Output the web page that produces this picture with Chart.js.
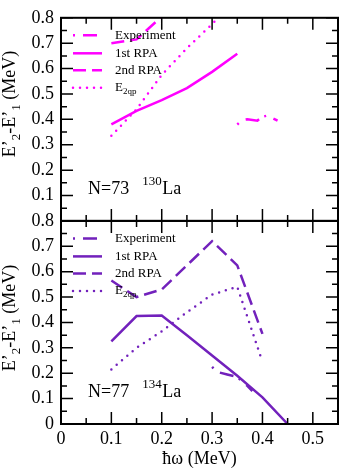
<!DOCTYPE html>
<html>
<head>
<meta charset="utf-8">
<script src="https://cdn.jsdelivr.net/npm/chart.js@4.4.1/dist/chart.umd.min.js"></script>
<style>
  html, body { margin: 0; padding: 0; background: #fff; }
  #wrap { position: relative; width: 341px; height: 470px; }
</style>
</head>
<body>
<div id="wrap"><canvas id="chart"></canvas></div>
<script>
// axis ticks (MeV)
var xTicks = [0, 0.1, 0.2, 0.3, 0.4, 0.5];
var yTicks = [0, 0.1, 0.2, 0.3, 0.4, 0.5, 0.6, 0.7, 0.8];

// N=73 130La (top panel)
var la130ExpX = [0.35, 0.36, 0.37, 0.39, 0.40, 0.41, 0.43];
var la130ExpY = [0.38, 0.397, 0.40, 0.395, 0.41, 0.415, 0.395];
var la130Rpa1X = [0.1, 0.15, 0.2, 0.25, 0.3, 0.35];
var la130Rpa1Y = [0.38, 0.433, 0.476, 0.523, 0.587, 0.658];
var la130Rpa2X = [0.1, 0.15, 0.2];
var la130Rpa2Y = [0.70, 0.715, 0.805];
var la130QpX = [0.1, 0.15, 0.2, 0.25, 0.3, 0.35];
var la130QpY = [0.335, 0.44, 0.575, 0.68, 0.775, 0.88];

// N=77 134La (bottom panel)
var la134ExpX = [0.3, 0.31, 0.33, 0.35, 0.37, 0.38];
var la134ExpY = [0.225, 0.205, 0.195, 0.185, 0.15, 0.13];
var la134Rpa1X = [0.1, 0.15, 0.2, 0.25, 0.3, 0.35, 0.4, 0.45];
var la134Rpa1Y = [0.325, 0.425, 0.427, 0.35, 0.27, 0.19, 0.105, 0.0];
var la134Rpa2X = [0.1, 0.15, 0.2, 0.3, 0.35, 0.4];
var la134Rpa2Y = [0.565, 0.50, 0.53, 0.72, 0.625, 0.355];
var la134QpX = [0.1, 0.15, 0.2, 0.25, 0.3, 0.35, 0.4];
var la134QpY = [0.215, 0.30, 0.365, 0.44, 0.51, 0.54, 0.245];

var MAGENTA = 'rgb(255,0,255)';
var INDIGO = 'rgb(114,33,188)';
var SERIF = '"Liberation Serif", "Times New Roman", serif';

// line styles: experiment, 1st RPA, 2nd RPA, E2qp
var styles = [
    { dash: [2, 8, 14, 6], cap: 'butt' },
    { dash: [], cap: 'butt' },
    { dash: [13, 6], cap: 'butt' },
    { dash: [0, 7], cap: 'round' }
];

function pts(xs, ys) {
    return xs.map(function (x, i) { return { x: x, y: ys[i] }; });
}

function makeSet(xs, ys, color, k, axis) {
    return {
        data: pts(xs, ys),
        yAxisID: axis,
        showLine: true,
        borderColor: color,
        backgroundColor: color,
        borderWidth: 2.5,
        borderDash: styles[k].dash,
        borderCapStyle: styles[k].cap,
        pointRadius: 0,
        tension: 0
    };
}

function drawRich(ctx, parts, x, y) {
    parts.forEach(function (p) {
        ctx.font = p[1] + 'px ' + SERIF;
        ctx.fillText(p[0], x, y + p[2]);
        x += ctx.measureText(p[0]).width;
    });
    return x;
}

function richWidth(ctx, parts) {
    var w = 0;
    parts.forEach(function (p) {
        ctx.font = p[1] + 'px ' + SERIF;
        w += ctx.measureText(p[0]).width;
    });
    return w;
}

var legendNames = [
    [['Experiment', 13, 0]],
    [['1st RPA', 13, 0]],
    [['2nd RPA', 13, 0]],
    [['E', 13, 0], ['2qp', 9, 4]]
];
var legendRows = [17.5, 35.5, 52.5, 70];
var yTitle = [['E', 18, 0], ['\u2019', 18, 0], ['2', 13, 5], ['-E', 18, 0], ['\u2019', 18, 0], ['1', 13, 5], [' (MeV)', 18, 0]];

var panels = [
    { axis: 'yTop', color: MAGENTA, n: 'N=73', a: '130', titleY: 104 },
    { axis: 'yBot', color: INDIGO, n: 'N=77', a: '134', titleY: 318 }
];

var panelPlugin = {
    id: 'panels',
    afterDatasetsDraw: function (chart) {
        var ctx = chart.ctx, xs = chart.scales.x;
        var l = xs.left, r = xs.right;
        panels.forEach(function (p) {
            var ys = chart.scales[p.axis];
            var t = ys.top, b = ys.bottom, i, len;
            ctx.save();
            ctx.strokeStyle = '#000';
            ctx.lineWidth = 2;
            ctx.strokeRect(l, t, r - l, b - t);
            ctx.lineWidth = 1.5;
            ctx.beginPath();
            for (i = 0; i <= 11; i++) {
                var px = xs.getPixelForValue(i * 0.05);
                len = i % 2 ? 6 : 12;
                ctx.moveTo(px, t); ctx.lineTo(px, t + len);
                ctx.moveTo(px, b); ctx.lineTo(px, b - len);
            }
            for (i = 0; i <= 16; i++) {
                var py = ys.getPixelForValue(i * 0.05);
                len = i % 2 ? 6 : 12;
                ctx.moveTo(l, py); ctx.lineTo(l + len, py);
                ctx.moveTo(r, py); ctx.lineTo(r - len, py);
            }
            ctx.stroke();

            // legend
            ctx.textBaseline = 'middle';
            ctx.fillStyle = '#000';
            legendRows.forEach(function (dy, k) {
                var y = t + dy;
                ctx.save();
                ctx.strokeStyle = p.color;
                ctx.lineWidth = 2.5;
                ctx.setLineDash(styles[k].dash);
                ctx.lineCap = styles[k].cap;
                ctx.beginPath();
                ctx.moveTo(73, y); ctx.lineTo(102, y);
                ctx.stroke();
                ctx.restore();
                drawRich(ctx, legendNames[k], 115, y);
            });

            // nucleus label
            ctx.textBaseline = 'alphabetic';
            var x = drawRich(ctx, [[p.n, 18, 0]], 88, b - 27);
            drawRich(ctx, [[p.a, 13, -9]], x + 13, b - 27);
            drawRich(ctx, [['La', 18, 0]], x + 33, b - 27);

            // y title
            ctx.save();
            ctx.translate(15, p.titleY);
            ctx.rotate(-Math.PI / 2);
            drawRich(ctx, yTitle, -richWidth(ctx, yTitle) / 2, 0);
            ctx.restore();
            ctx.restore();
        });

        // x title
        ctx.save();
        ctx.fillStyle = '#000';
        ctx.textAlign = 'center';
        ctx.textBaseline = 'middle';
        ctx.font = '18px ' + SERIF;
        ctx.fillText('\u0127\u03c9 (MeV)', (l + r) / 2, 459);
        ctx.restore();
    }
};

function setTicks(vals) {
    return function (scale) {
        scale.ticks = vals.map(function (v) { return { value: v }; });
    };
}

function yScale(hideZero) {
    return {
        type: 'linear',
        position: 'left',
        stack: 'panels',
        stackWeight: 1,
        min: 0,
        max: 0.8,
        grid: { display: false, drawTicks: false },
        border: { display: false },
        afterBuildTicks: setTicks(yTicks),
        afterFit: function (s) { s.width = 61; },
        ticks: {
            color: '#000',
            padding: 7,
            autoSkip: false,
            font: { family: SERIF, size: 18 },
            callback: function (v) { return (hideZero && v === 0) ? '' : String(v); }
        }
    };
}

var ctx = document.getElementById('chart').getContext('2d');
var chart = new Chart(ctx, {
    type: 'scatter',
    data: {
        datasets: [
            makeSet(la130ExpX, la130ExpY, MAGENTA, 0, 'yTop'),
            makeSet(la130Rpa1X, la130Rpa1Y, MAGENTA, 1, 'yTop'),
            makeSet(la130Rpa2X, la130Rpa2Y, MAGENTA, 2, 'yTop'),
            makeSet(la130QpX, la130QpY, MAGENTA, 3, 'yTop'),
            makeSet(la134ExpX, la134ExpY, INDIGO, 0, 'yBot'),
            makeSet(la134Rpa1X, la134Rpa1Y, INDIGO, 1, 'yBot'),
            makeSet(la134Rpa2X, la134Rpa2Y, INDIGO, 2, 'yBot'),
            makeSet(la134QpX, la134QpY, INDIGO, 3, 'yBot')
        ]
    },
    options: {
        responsive: true,
        maintainAspectRatio: false,
        animation: false,
        layout: { padding: { left: 0, top: 7, right: 3, bottom: 0 } },
        plugins: { legend: { display: false }, tooltip: { enabled: false } },
        scales: {
            x: {
                type: 'linear',
                min: 0,
                max: 0.55,
                grid: { display: false, drawTicks: false },
                border: { display: false },
                afterBuildTicks: setTicks(xTicks),
                afterFit: function (s) { s.height = 46; },
                ticks: {
                    color: '#000',
                    padding: 4,
                    autoSkip: false,
                    maxRotation: 0,
                    font: { family: SERIF, size: 18 },
                    callback: function (v) { return String(v); }
                }
            },
            yBot: yScale(false),
            yTop: yScale(true)
        }
    },
    plugins: [panelPlugin]
});
</script>
</body>
</html>
